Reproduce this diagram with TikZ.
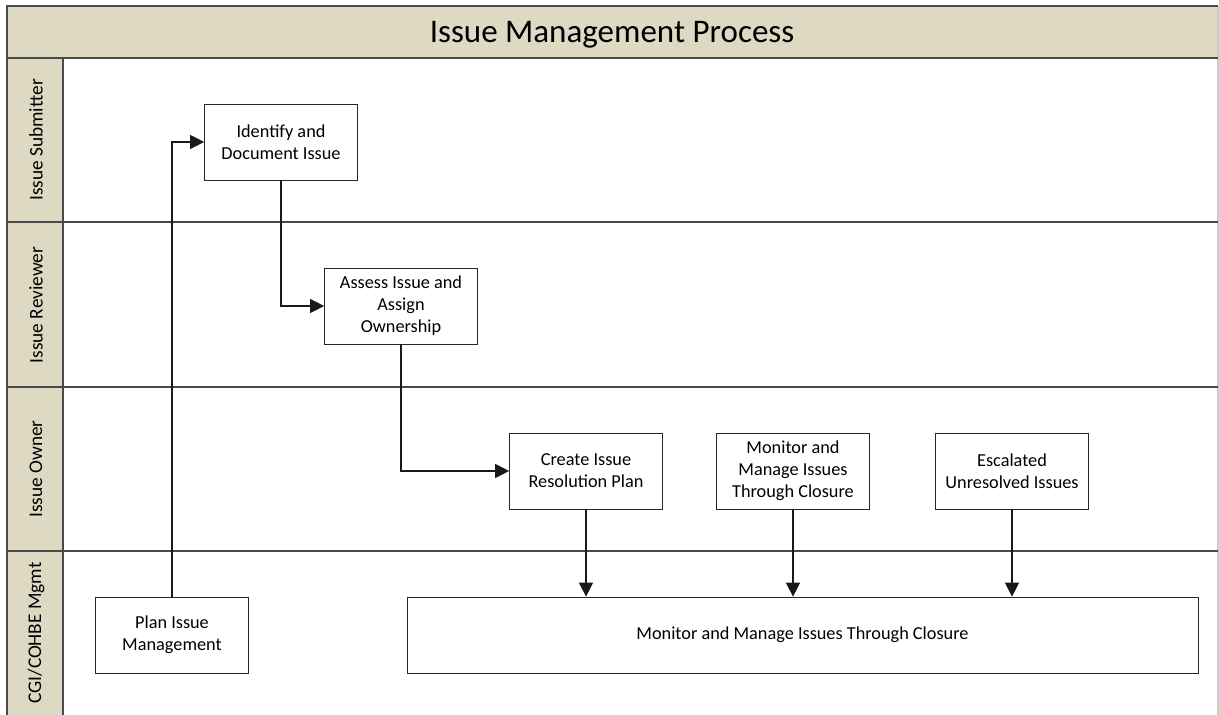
\documentclass[tikz,border=0pt]{standalone}
\usepackage{fontspec}
\setmainfont{Carlito}
\usetikzlibrary{positioning,arrows.meta}
\definecolor{laneTan}{HTML}{DDD9C3}
\definecolor{laneLine}{HTML}{4A4A4A}

\begin{document}
\begin{tikzpicture}[x=0.02cm,y=-0.02cm]
\tikzstyle{task}=[rectangle, draw=black!85, fill=white, minimum width=3.06cm, minimum height=1.52cm, align=center, inner sep=2pt, font=\fontsize{10.4}{12.5}\selectfont]
\tikzstyle{lane}=[rotate=90, font=\fontsize{11}{13}\selectfont]
\tikzstyle{sep}=[draw=laneLine, line width=1.2pt]
\tikzstyle{connect}=[-{Triangle[length=8pt,width=8pt]}, black!90, semithick]
\tikzstyle{elbow}=[to path={|- (\tikztotarget)}]
\useasboundingbox (0,0) rectangle (1219,715);
% header bands
\fill[laneTan] (7,6) rectangle (1218,58);
\fill[laneTan] (7,58) rectangle (63,715);
\draw[black!20, line width=0.8pt] (1218,6) -- (1218,715);
\draw[sep] (7,715) -- (7,6) -- (1218,6);
\draw[sep] (63,58) -- (63,715);
\foreach \y in {58,222,387,551}
	\draw[sep] (7,\y) -- (1218,\y);
	\node (title) at (612,35) {\fontsize{18.8}{22}\selectfont Issue Management Process};
	\node[lane] (l_sub) at (36,140) {Issue Submitter};
	\node[lane] (l_rev) at (36,305) {Issue Reviewer};
	\node[lane] (l_own) at (36,469) {Issue Owner};
	\node[lane] (l_mgt) at (36,633) {CGI/COHBE Mgmt};

	\node[task] (ident) at (281,142) {Identify and\\Document Issue};
	\node[task] (assess) at (401,306) {Assess Issue and\\Assign\\Ownership};
	\node[task] (create) at (586,471) {Create Issue\\Resolution Plan};
	\node[task] (monitor) at (793,471) {Monitor and\\Manage Issues\\Through Closure};
	\node[task] (escal) at (1012,471) {Escalated\\Unresolved Issues};
	\node[task] (plan) at (172,635) {Plan Issue\\Management};
	\node[task, minimum width=15.82cm] (closure) at (802.5,635) {Monitor and Manage Issues Through Closure};

	\path
		(plan.north) edge [connect, elbow] (ident.west)
		(ident.south) edge [connect, elbow] (assess.west)
		(assess.south) edge [connect, elbow] (create.west)
		(create.south) edge [connect] (create.south |- closure.north)
		(monitor.south) edge [connect] (monitor.south |- closure.north)
		(escal.south) edge [connect] (escal.south |- closure.north);

\end{tikzpicture}
\end{document}
